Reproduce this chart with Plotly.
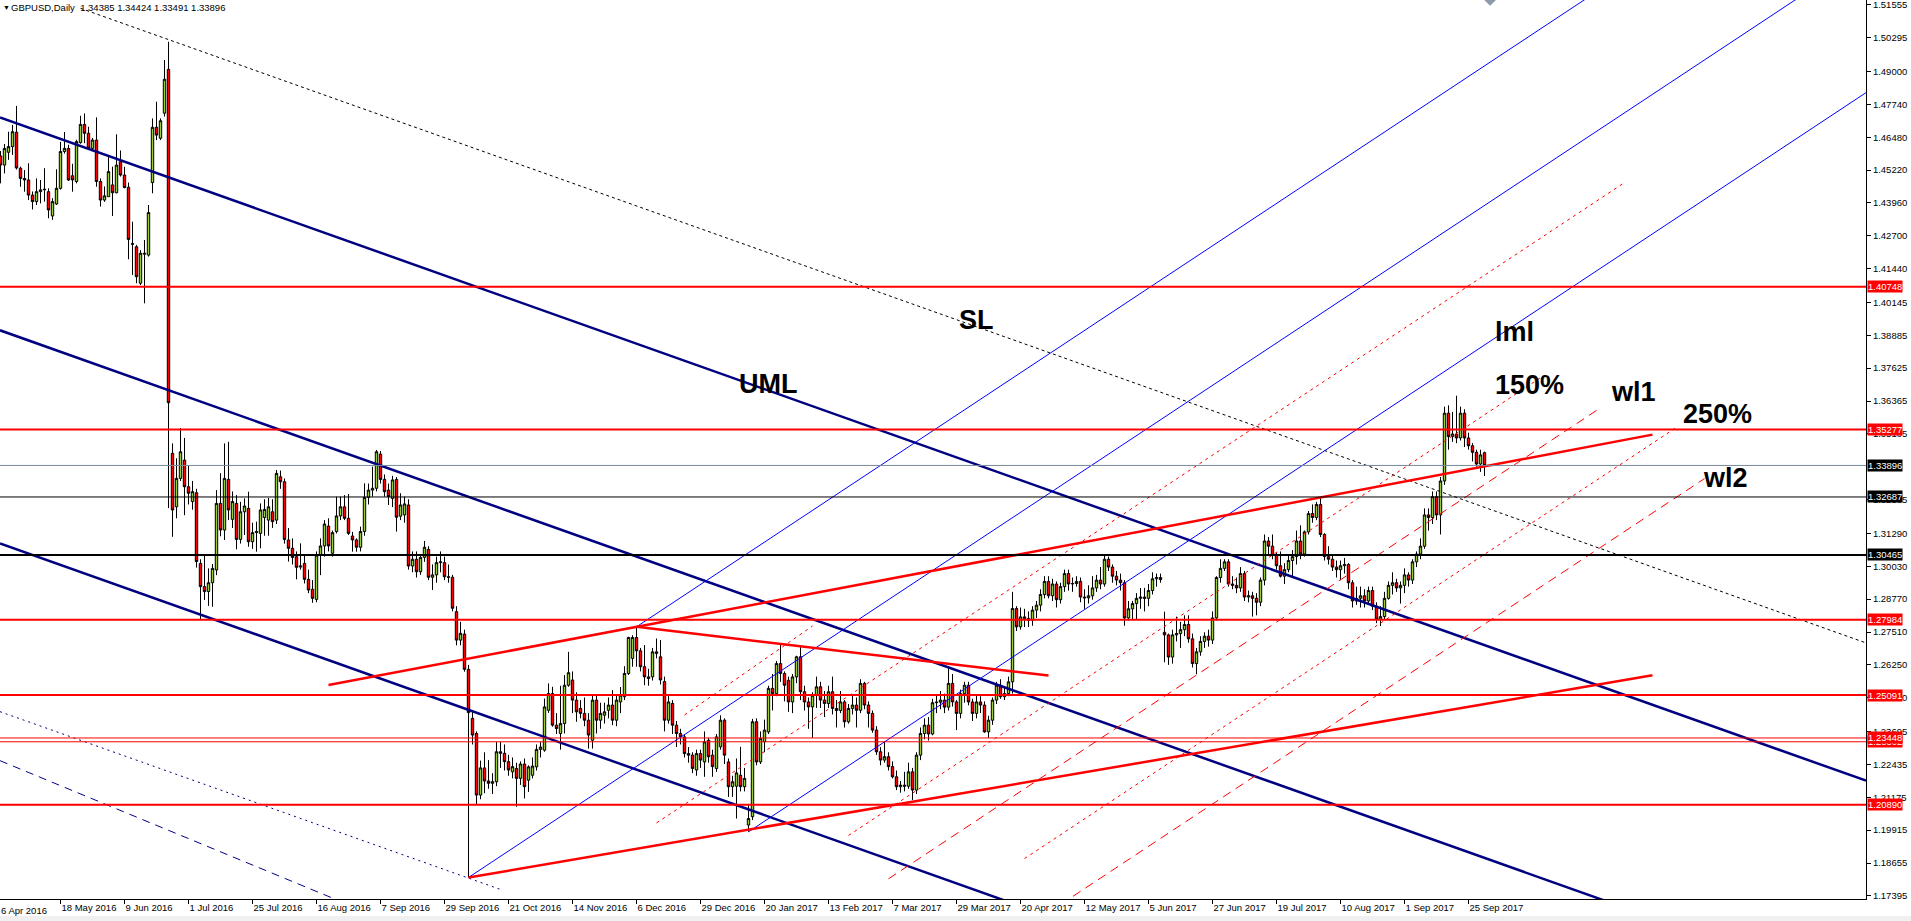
import pandas as pd
import plotly.graph_objects as go

# GBPUSD daily bars, 27 Apr 2016 .. 29 Sep 2017
opens = [
    1.4576, 1.4541, 1.4590, 1.4612, 1.4667, 1.4529, 1.4490, 1.4484, 1.4426, 1.4401,
    1.4439, 1.4446, 1.4439, 1.4346, 1.4392, 1.4452, 1.4593, 1.4605, 1.4500, 1.4478,
    1.4627, 1.4697, 1.4663, 1.4605, 1.4637, 1.4478, 1.4407, 1.4420, 1.4465, 1.4435,
    1.4554, 1.4503, 1.4456, 1.4240, 1.4228, 1.4088, 1.4203, 1.4196, 1.4474, 1.4686,
    1.4644, 1.4740, 1.4908, 1.3436, 1.3231, 1.3340, 1.3410, 1.3308, 1.3251, 1.3285,
    1.3014, 1.2925, 1.2906, 1.2940, 1.2989, 1.3244, 1.3142, 1.3336, 1.3183, 1.3244,
    1.3106, 1.3212, 1.3225, 1.3097, 1.3132, 1.3129, 1.3190, 1.3180, 1.3212, 1.3180,
    1.3346, 1.3327, 1.3104, 1.3072, 1.3040, 1.3000, 1.3014, 1.2953, 1.2915, 1.2876,
    1.3046, 1.3081, 1.3157, 1.3053, 1.3136, 1.3196, 1.3231, 1.3187, 1.3119, 1.3104,
    1.3076, 1.3136, 1.3267, 1.3295, 1.3302, 1.3433, 1.3336, 1.3295, 1.3263, 1.3336,
    1.3195, 1.3200, 1.3238, 1.3004, 1.3030, 1.2982, 1.3037, 1.3068, 1.2961, 1.2970,
    1.3017, 1.3017, 1.2963, 1.2961, 1.2829, 1.2720, 1.2743, 1.2608, 1.2420, 1.2362,
    1.2126, 1.2230, 1.2180, 1.2171, 1.2177, 1.2292, 1.2286, 1.2254, 1.2215, 1.2228,
    1.2190, 1.2245, 1.2183, 1.2202, 1.2234, 1.2301, 1.2298, 1.2451, 1.2515, 1.2394,
    1.2362, 1.2400, 1.2547, 1.2567, 1.2490, 1.2458, 1.2439, 1.2413, 1.2336, 1.2490,
    1.2413, 1.2432, 1.2451, 1.2471, 1.2413, 1.2483, 1.2503, 1.2592, 1.2650, 1.2730,
    1.2679, 1.2618, 1.2579, 1.2579, 1.2675, 1.2656, 1.2561, 1.2413, 1.2477, 1.2394,
    1.2362, 1.2349, 1.2285, 1.2279, 1.2222, 1.2285, 1.2253, 1.2336, 1.2279, 1.2228,
    1.2311, 1.2413, 1.2253, 1.2158, 1.2160, 1.2202, 1.2158, 1.2011, 1.2043, 1.2407,
    1.2253, 1.2330, 1.2368, 1.2535, 1.2515, 1.2630, 1.2592, 1.2566, 1.2483, 1.2579,
    1.2656, 1.2522, 1.2483, 1.2464, 1.2509, 1.2541, 1.2490, 1.2477, 1.2522, 1.2458,
    1.2450, 1.2483, 1.2407, 1.2458, 1.2471, 1.2451, 1.2554, 1.2471, 1.2439, 1.2375,
    1.2292, 1.2260, 1.2273, 1.2235, 1.2196, 1.2158, 1.2164, 1.2160, 1.2215, 1.2145,
    1.2279, 1.2362, 1.2394, 1.2360, 1.2480, 1.2482, 1.2490, 1.2463, 1.2554, 1.2483,
    1.2439, 1.2515, 1.2547, 1.2483, 1.2439, 1.2483, 1.2471, 1.2368, 1.2413, 1.2490,
    1.2547, 1.2503, 1.2515, 1.2560, 1.2841, 1.2771, 1.2809, 1.2803, 1.2796, 1.2835,
    1.2854, 1.2895, 1.2945, 1.2890, 1.2935, 1.2875, 1.2925, 1.2975, 1.2935, 1.2937,
    1.2945, 1.2885, 1.2882, 1.2890, 1.2920, 1.2950, 1.2935, 1.3030, 1.3000, 1.2965,
    1.2950, 1.2940, 1.2805, 1.2840, 1.2860, 1.2880, 1.2885, 1.2880, 1.2910, 1.2955,
    1.2960, 1.2750, 1.2740, 1.2655, 1.2740, 1.2745, 1.2760, 1.2780, 1.2725, 1.2630,
    1.2675, 1.2715, 1.2735, 1.2720, 1.2805, 1.2960, 1.2995, 1.3020, 1.2935, 1.2930,
    1.2920, 1.2975, 1.2885, 1.2890, 1.2880, 1.2865, 1.2950, 1.3100, 1.3080, 1.3045,
    1.3005, 1.2965, 1.2990, 1.3025, 1.3040, 1.3100, 1.3050, 1.3135, 1.3205, 1.3190,
    1.3240, 1.3125, 1.3040, 1.3030, 1.3000, 1.2990, 1.3005, 1.3010, 1.2940, 1.2870,
    1.2880, 1.2890, 1.2870, 1.2910, 1.2850, 1.2800, 1.2810, 1.2880, 1.2930, 1.2940,
    1.2920, 1.2930, 1.2970, 1.2950, 1.3020, 1.3050, 1.3080, 1.3200, 1.3190, 1.3270,
    1.3200, 1.3330, 1.3590, 1.3500, 1.3510, 1.3495, 1.3590, 1.3495, 1.3465, 1.3440,
    1.3395, 1.34385,
]
highs = [
    1.4595, 1.4622, 1.4669, 1.4695, 1.4768, 1.4535, 1.4522, 1.4548, 1.4440, 1.4490,
    1.4484, 1.4529, 1.4452, 1.4414, 1.4525, 1.4630, 1.4668, 1.4619, 1.4546, 1.4638,
    1.4730, 1.4739, 1.4688, 1.4645, 1.4724, 1.4490, 1.4459, 1.4580, 1.4535, 1.4659,
    1.4597, 1.4535, 1.4474, 1.4324, 1.4235, 1.4215, 1.4254, 1.4388, 1.4720, 1.4784,
    1.4720, 1.4944, 1.5014, 1.3474, 1.3417, 1.3533, 1.3495, 1.3390, 1.3330, 1.3300,
    1.3030, 1.3046, 1.2995, 1.3012, 1.3295, 1.3360, 1.3474, 1.3480, 1.3290, 1.3276,
    1.3250, 1.3263, 1.3289, 1.3170, 1.3174, 1.3244, 1.3260, 1.3265, 1.3260, 1.3372,
    1.3370, 1.3340, 1.3150, 1.3110, 1.3060, 1.3091, 1.3050, 1.2990, 1.2950, 1.3060,
    1.3110, 1.3180, 1.3187, 1.3140, 1.3270, 1.3270, 1.3276, 1.3280, 1.3135, 1.3110,
    1.3155, 1.3321, 1.3320, 1.3385, 1.3449, 1.3445, 1.3355, 1.3320, 1.3350, 1.3345,
    1.3283, 1.3270, 1.3260, 1.3060, 1.3060, 1.3050, 1.3100, 1.3080, 1.3010, 1.3040,
    1.3060, 1.3040, 1.3010, 1.2970, 1.2850, 1.2790, 1.2760, 1.2625, 1.2450, 1.2370,
    1.2258, 1.2290, 1.2260, 1.2210, 1.2330, 1.2330, 1.2320, 1.2280, 1.2270, 1.2250,
    1.2255, 1.2266, 1.2240, 1.2270, 1.2320, 1.2330, 1.2496, 1.2554, 1.2541, 1.2440,
    1.2545, 1.2586, 1.2675, 1.2600, 1.2520, 1.2490, 1.2500, 1.2440, 1.2509, 1.2509,
    1.2480, 1.2480, 1.2500, 1.2528, 1.2510, 1.2540, 1.2620, 1.2733, 1.2739, 1.2771,
    1.2690, 1.2701, 1.2610, 1.2690, 1.2726, 1.2720, 1.2580, 1.2510, 1.2490, 1.2410,
    1.2380, 1.2360, 1.2310, 1.2290, 1.2300, 1.2300, 1.2370, 1.2345, 1.2300, 1.2360,
    1.2432, 1.2420, 1.2266, 1.2200, 1.2266, 1.2311, 1.2230, 1.2090, 1.2418, 1.2420,
    1.2370, 1.2415, 1.2545, 1.2590, 1.2640, 1.2705, 1.2600, 1.2580, 1.2590, 1.2660,
    1.2701, 1.2545, 1.2500, 1.2520, 1.2580, 1.2560, 1.2525, 1.2545, 1.2580, 1.2490,
    1.2525, 1.2490, 1.2475, 1.2510, 1.2500, 1.2570, 1.2560, 1.2485, 1.2450, 1.2390,
    1.2310, 1.2330, 1.2290, 1.2255, 1.2220, 1.2180, 1.2215, 1.2250, 1.2230, 1.2290,
    1.2385, 1.2420, 1.2425, 1.2495, 1.2510, 1.2525, 1.2515, 1.2618, 1.2590, 1.2490,
    1.2530, 1.2560, 1.2560, 1.2495, 1.2510, 1.2505, 1.2485, 1.2430, 1.2500, 1.2560,
    1.2570, 1.2540, 1.2580, 1.2905, 1.2850, 1.2845, 1.2840, 1.2830, 1.2850, 1.2870,
    1.2915, 1.2965, 1.2965, 1.2955, 1.2945, 1.2940, 1.2990, 1.2990, 1.2960, 1.2965,
    1.2960, 1.2915, 1.2930, 1.2965, 1.2970, 1.3000, 1.3048, 1.3040, 1.3010, 1.2985,
    1.2975, 1.2950, 1.2870, 1.2870, 1.2900, 1.2920, 1.2920, 1.2935, 1.2980, 1.2975,
    1.2975, 1.2829, 1.2745, 1.2760, 1.2810, 1.2790, 1.2815, 1.2815, 1.2745, 1.2690,
    1.2735, 1.2750, 1.2760, 1.2830, 1.2965, 1.3030, 1.3030, 1.3030, 1.2965, 1.2960,
    1.3000, 1.2985, 1.2910, 1.2905, 1.2900, 1.2960, 1.3125, 1.3115, 1.3125, 1.3055,
    1.3060, 1.3015, 1.3045, 1.3065, 1.3140, 1.3160, 1.3140, 1.3215, 1.3240, 1.3250,
    1.3267, 1.3130, 1.3080, 1.3050, 1.3025, 1.3025, 1.3035, 1.3015, 1.2950, 1.2925,
    1.2925, 1.2915, 1.2925, 1.2925, 1.2865, 1.2850, 1.2905, 1.2945, 1.2980, 1.2955,
    1.2945, 1.2995, 1.2980, 1.3030, 1.3060, 1.3110, 1.3225, 1.3225, 1.3290, 1.3290,
    1.3345, 1.3615, 1.3620, 1.3595, 1.3657, 1.3615, 1.3605, 1.3515, 1.3475, 1.3450,
    1.3450, 1.34424,
]
lows = [
    1.4471, 1.4509, 1.4561, 1.4580, 1.4524, 1.4458, 1.4439, 1.4407, 1.4371, 1.4388,
    1.4394, 1.4401, 1.4337, 1.4331, 1.4388, 1.4447, 1.4585, 1.4480, 1.4439, 1.4471,
    1.4623, 1.4625, 1.4600, 1.4594, 1.4458, 1.4382, 1.4400, 1.4420, 1.4346, 1.4433,
    1.4497, 1.4452, 1.4180, 1.4120, 1.4088, 1.4081, 1.4011, 1.4190, 1.4433, 1.4637,
    1.4637, 1.4727, 1.3226, 1.3116, 1.3187, 1.3330, 1.3199, 1.3240, 1.3220, 1.2998,
    1.2797, 1.2874, 1.2851, 1.2848, 1.2969, 1.3118, 1.3104, 1.3180, 1.3150, 1.3068,
    1.3090, 1.3123, 1.3078, 1.3070, 1.3059, 1.3072, 1.3120, 1.3120, 1.3150, 1.3165,
    1.3300, 1.3090, 1.3021, 1.3010, 1.2953, 1.2990, 1.2937, 1.2900, 1.2863, 1.2865,
    1.2969, 1.3040, 1.3060, 1.3040, 1.3129, 1.3180, 1.3180, 1.3123, 1.3059, 1.3059,
    1.3060, 1.3120, 1.3240, 1.3270, 1.3290, 1.3320, 1.3270, 1.3238, 1.3230, 1.3136,
    1.3180, 1.3170, 1.2990, 1.2980, 1.2960, 1.2970, 1.3020, 1.2950, 1.2912, 1.2940,
    1.2980, 1.2950, 1.2940, 1.2830, 1.2700, 1.2700, 1.2599, 1.1810, 1.2320, 1.2088,
    1.2110, 1.2133, 1.2150, 1.2130, 1.2160, 1.2230, 1.2220, 1.2200, 1.2190, 1.2081,
    1.2165, 1.2113, 1.2138, 1.2190, 1.2220, 1.2270, 1.2292, 1.2441, 1.2388, 1.2360,
    1.2300, 1.2362, 1.2541, 1.2440, 1.2407, 1.2420, 1.2390, 1.2304, 1.2304, 1.2362,
    1.2380, 1.2400, 1.2420, 1.2394, 1.2390, 1.2440, 1.2490, 1.2586, 1.2618, 1.2618,
    1.2600, 1.2547, 1.2545, 1.2565, 1.2650, 1.2550, 1.2370, 1.2400, 1.2360, 1.2310,
    1.2320, 1.2270, 1.2250, 1.2210, 1.2200, 1.2230, 1.2196, 1.2250, 1.2196, 1.2215,
    1.2300, 1.2245, 1.2119, 1.2119, 1.2036, 1.2140, 1.2140, 1.1985, 1.2030, 1.2240,
    1.2245, 1.2290, 1.2360, 1.2450, 1.2505, 1.2560, 1.2485, 1.2445, 1.2440, 1.2555,
    1.2490, 1.2450, 1.2380, 1.2345, 1.2460, 1.2460, 1.2425, 1.2460, 1.2435, 1.2385,
    1.2440, 1.2385, 1.2400, 1.2435, 1.2385, 1.2440, 1.2455, 1.2385, 1.2365, 1.2280,
    1.2240, 1.2250, 1.2220, 1.2190, 1.2145, 1.2135, 1.2140, 1.2150, 1.2107, 1.2130,
    1.2260, 1.2340, 1.2335, 1.2355, 1.2440, 1.2455, 1.2440, 1.2450, 1.2465, 1.2375,
    1.2420, 1.2480, 1.2470, 1.2410, 1.2420, 1.2440, 1.2365, 1.2345, 1.2395, 1.2475,
    1.2495, 1.2490, 1.2505, 1.2515, 1.2755, 1.2760, 1.2770, 1.2770, 1.2775, 1.2805,
    1.2830, 1.2880, 1.2880, 1.2870, 1.2845, 1.2860, 1.2905, 1.2910, 1.2905, 1.2925,
    1.2865, 1.2840, 1.2860, 1.2875, 1.2905, 1.2915, 1.2925, 1.2985, 1.2940, 1.2930,
    1.2910, 1.2775, 1.2795, 1.2800, 1.2800, 1.2840, 1.2830, 1.2850, 1.2895, 1.2925,
    1.2940, 1.2635, 1.2625, 1.2630, 1.2715, 1.2690, 1.2735, 1.2710, 1.2615, 1.2589,
    1.2660, 1.2690, 1.2695, 1.2705, 1.2795, 1.2940, 1.2985, 1.2925, 1.2915, 1.2900,
    1.2905, 1.2870, 1.2865, 1.2810, 1.2815, 1.2850, 1.2930, 1.3045, 1.3030, 1.2990,
    1.2960, 1.2935, 1.2980, 1.2960, 1.3010, 1.3030, 1.3040, 1.3125, 1.3170, 1.3180,
    1.3115, 1.3025, 1.3010, 1.2985, 1.2960, 1.2950, 1.2975, 1.2915, 1.2845, 1.2855,
    1.2845, 1.2845, 1.2860, 1.2835, 1.2785, 1.2774, 1.2800, 1.2875, 1.2895, 1.2905,
    1.2860, 1.2900, 1.2925, 1.2935, 1.3000, 1.3030, 1.3070, 1.3140, 1.3165, 1.3180,
    1.3125, 1.3315, 1.3450, 1.3480, 1.3475, 1.3485, 1.3460, 1.3450, 1.3405, 1.3385,
    1.3365, 1.33491,
]
closes = [
    1.4541, 1.4605, 1.4612, 1.4669, 1.4530, 1.4490, 1.4484, 1.4426, 1.4401, 1.4439,
    1.4446, 1.4448, 1.4369, 1.4401, 1.4452, 1.4593, 1.4605, 1.4484, 1.4484, 1.4631,
    1.4697, 1.4663, 1.4605, 1.4637, 1.4478, 1.4407, 1.4423, 1.4516, 1.4435, 1.4541,
    1.4503, 1.4455, 1.4256, 1.4238, 1.4113, 1.4203, 1.4200, 1.4359, 1.4686, 1.4656,
    1.4711, 1.4870, 1.3630, 1.3219, 1.3340, 1.3442, 1.3308, 1.3283, 1.3289, 1.3021,
    1.2925, 1.2906, 1.2940, 1.2995, 1.3244, 1.3142, 1.3340, 1.3219, 1.3251, 1.3106,
    1.3212, 1.3234, 1.3097, 1.3132, 1.3136, 1.3219, 1.3221, 1.3231, 1.3174, 1.3359,
    1.3327, 1.3106, 1.3072, 1.3037, 1.2999, 1.3004, 1.2953, 1.2912, 1.2880, 1.3046,
    1.3081, 1.3165, 1.3081, 1.3132, 1.3196, 1.3231, 1.3187, 1.3129, 1.3104, 1.3076,
    1.3136, 1.3267, 1.3295, 1.3302, 1.3442, 1.3336, 1.3289, 1.3270, 1.3334, 1.3191,
    1.3238, 1.3242, 1.3004, 1.3030, 1.2982, 1.3037, 1.3076, 1.2961, 1.2970, 1.3017,
    1.3020, 1.2963, 1.2961, 1.2842, 1.2720, 1.2746, 1.2608, 1.2442, 1.2356, 1.2126,
    1.2230, 1.2180, 1.2171, 1.2177, 1.2292, 1.2286, 1.2254, 1.2222, 1.2235, 1.2190,
    1.2245, 1.2158, 1.2234, 1.2237, 1.2301, 1.2310, 1.2464, 1.2515, 1.2394, 1.2381,
    1.2400, 1.2547, 1.2595, 1.2490, 1.2445, 1.2439, 1.2413, 1.2356, 1.2490, 1.2413,
    1.2439, 1.2445, 1.2471, 1.2413, 1.2490, 1.2509, 1.2592, 1.2730, 1.2730, 1.2679,
    1.2618, 1.2579, 1.2573, 1.2675, 1.2669, 1.2567, 1.2413, 1.2483, 1.2394, 1.2362,
    1.2349, 1.2285, 1.2279, 1.2228, 1.2285, 1.2260, 1.2330, 1.2273, 1.2235, 1.2349,
    1.2413, 1.2279, 1.2158, 1.2177, 1.2211, 1.2158, 1.2190, 1.2036, 1.2407, 1.2253,
    1.2343, 1.2375, 1.2535, 1.2515, 1.2630, 1.2592, 1.2547, 1.2483, 1.2579, 1.2656,
    1.2522, 1.2483, 1.2464, 1.2509, 1.2541, 1.2490, 1.2477, 1.2522, 1.2458, 1.2450,
    1.2483, 1.2407, 1.2458, 1.2471, 1.2451, 1.2554, 1.2471, 1.2439, 1.2375, 1.2292,
    1.2260, 1.2273, 1.2235, 1.2196, 1.2158, 1.2164, 1.2160, 1.2215, 1.2145, 1.2279,
    1.2362, 1.2394, 1.2360, 1.2480, 1.2482, 1.2490, 1.2463, 1.2554, 1.2483, 1.2439,
    1.2515, 1.2547, 1.2483, 1.2439, 1.2483, 1.2471, 1.2368, 1.2413, 1.2490, 1.2547,
    1.2503, 1.2515, 1.2560, 1.2841, 1.2771, 1.2809, 1.2803, 1.2796, 1.2835, 1.2854,
    1.2895, 1.2945, 1.2890, 1.2935, 1.2875, 1.2925, 1.2975, 1.2935, 1.2937, 1.2945,
    1.2885, 1.2882, 1.2890, 1.2920, 1.2950, 1.2935, 1.3030, 1.3000, 1.2965, 1.2950,
    1.2940, 1.2805, 1.2840, 1.2860, 1.2880, 1.2885, 1.2880, 1.2910, 1.2955, 1.2960,
    1.2952, 1.2740, 1.2655, 1.2740, 1.2745, 1.2760, 1.2780, 1.2725, 1.2630, 1.2675,
    1.2715, 1.2735, 1.2720, 1.2805, 1.2960, 1.2995, 1.3020, 1.2935, 1.2930, 1.2920,
    1.2975, 1.2885, 1.2890, 1.2880, 1.2865, 1.2950, 1.3100, 1.3080, 1.3045, 1.3005,
    1.2965, 1.2990, 1.3025, 1.3040, 1.3100, 1.3050, 1.3135, 1.3205, 1.3190, 1.3240,
    1.3125, 1.3040, 1.3030, 1.3000, 1.2990, 1.3005, 1.3010, 1.2940, 1.2870, 1.2880,
    1.2890, 1.2870, 1.2910, 1.2850, 1.2800, 1.2810, 1.2880, 1.2930, 1.2940, 1.2920,
    1.2930, 1.2970, 1.2950, 1.3020, 1.3050, 1.3080, 1.3200, 1.3190, 1.3270, 1.3200,
    1.3330, 1.3590, 1.3500, 1.3510, 1.3495, 1.3590, 1.3495, 1.3465, 1.3440, 1.3395,
    1.3430, 1.33896,
]

# bottom axis labels, one every 16 bars
date_ticks = [
    "18 May 2016", "9 Jun 2016", "1 Jul 2016", "25 Jul 2016", "16 Aug 2016",
    "7 Sep 2016", "29 Sep 2016", "21 Oct 2016", "14 Nov 2016", "6 Dec 2016",
    "29 Dec 2016", "20 Jan 2017", "13 Feb 2017", "7 Mar 2017", "29 Mar 2017",
    "20 Apr 2017", "12 May 2017", "5 Jun 2017", "27 Jun 2017", "19 Jul 2017",
    "10 Aug 2017", "1 Sep 2017", "25 Sep 2017",
]
# right axis labels (the ones hidden under the level boxes are left out)
price_ticks = [
    1.51555, 1.50295, 1.49000, 1.47740, 1.46480, 1.45220, 1.43960, 1.42700,
    1.41440, 1.40145, 1.38885, 1.37625, 1.36365, 1.35105, 1.32585,
    1.31290, 1.30030, 1.28770, 1.27510, 1.26250, 1.24990, 1.23695, 1.22435,
    1.21175, 1.19915, 1.18655, 1.17395,
]

# horizontal levels
level_prices = [1.40748, 1.35277, 1.33896, 1.32687, 1.30465, 1.27984,
                1.25091, 1.23302, 1.23448, 1.20890]
level_kinds = ["red", "red", "bid", "black_thin", "black", "red",
               "red", "red_thin", "red_thin", "red"]

# descending navy channel (two points on each line)
channel_from = ["2016-04-27", "2016-04-27", "2016-04-27"]
channel_from_price = [1.4723, 1.3907, 1.3090]
channel_to = ["2017-09-29", "2017-09-29", "2017-09-29"]
channel_to_price = [1.2701, 1.1885, 1.1068]

# Andrews pitchfork: Oct 7 low, Dec 6 high, Jan 16 low
fork_dates = ["2016-10-07", "2016-12-06", "2017-01-16"]
fork_prices = [1.1810, 1.2771, 1.1985]
# extra red levels, as multiples of the median-to-lower-line distance
fork_levels = [0.5, 1.5, 2.0, 2.5, 3.0]
fork_level_from = ["2016-12-13", "2017-02-20", "2017-03-06", "2017-04-21", "2017-05-04"]
fork_level_to = ["2017-11-17", "2017-10-19", "2017-11-09", "2017-12-06", "2017-12-15"]
fork_level_dash = ["3px,4px", "3px,4px", "9px,6px", "3px,4px", "9px,6px"]

# text labels on the chart: left edge date, centre price
labels = ["SL", "UML", "lml", "150%", "wl1", "250%", "wl2"]
label_dates = ["2017-03-29", "2017-01-11", "2017-10-03", "2017-10-03",
               "2017-11-13", "2017-12-07", "2017-12-14"]
label_prices = [1.3949, 1.3700, 1.3901, 1.3698, 1.3671, 1.3587, 1.3343]

# broker calendar: weekdays, no bar on 26 Dec 2016, carried on past the last bar
calendar = [d for d in pd.bdate_range("2016-04-27", "2018-03-30")
            if d != pd.Timestamp("2016-12-26")]
bar_no = {d.strftime("%Y-%m-%d"): i for i, d in enumerate(calendar)}


def bar(day):
    return bar_no[day]


X_LEFT, X_RIGHT = -0.125, 466.375
Y_LOW, Y_HIGH = 1.17275, 1.51739
SMALL = 9.5  # axis / header text size

n = len(closes)
assert len(opens) == len(highs) == len(lows) == n == 372

fig = go.Figure()
fig.add_trace(go.Candlestick(
    x=list(range(n)), open=opens, high=highs, low=lows, close=closes,
    increasing=dict(fillcolor="#9acd32", line=dict(color="black", width=1)),
    decreasing=dict(fillcolor="#ff0000", line=dict(color="black", width=1)),
    whiskerwidth=0, hoverinfo="skip",
))


def at(p, q, x):
    (x1, y1), (x2, y2) = p, q
    return y1 + (y2 - y1) * (x - x1) / (x2 - x1)


def add_line(p, q, x0, x1, color, width, dash="solid"):
    fig.add_trace(go.Scatter(
        x=[x0, x1], y=[at(p, q, x0), at(p, q, x1)], mode="lines",
        line=dict(color=color, width=width, dash=dash), hoverinfo="skip",
    ))


# navy channel, drawn across the whole chart
for d0, p0, d1, p1 in zip(channel_from, channel_from_price, channel_to, channel_to_price):
    add_line((bar(d0), p0), (bar(d1), p1), X_LEFT, X_RIGHT, "#000080", 2.5)

# navy dotted line through the Oct 7 low and the dashed one below it
add_line((bar("2016-04-27"), 1.2445), (bar("2016-10-19"), 1.1764),
         X_LEFT, bar("2016-10-19"), "#000080", 1, "2px,4px")
add_line((bar("2016-04-27"), 1.2257), (bar("2016-09-07"), 1.1655),
         X_LEFT, bar("2016-09-07"), "#00008b", 1, "8px,6px")

# SL, black dotted, through the referendum high
add_line((bar("2016-05-25"), 1.5142), (bar("2017-09-29"), 1.3229),
         bar("2016-05-25"), X_RIGHT, "black", 1, "3px,3px")

# pitchfork
b0, b1, b2 = [bar(d) for d in fork_dates]
p0, p1, p2 = fork_prices
slope = ((p1 + p2) / 2 - p0) / ((b1 + b2) / 2 - b0)
half = (p0 + slope * (b2 - b0)) - p2


def fork(k, x):
    return p0 + slope * (x - b0) - k * half


for k, start in [(0, b0), (-1, b1), (1, b2)]:
    add_line((start, fork(k, start)), (X_RIGHT, fork(k, X_RIGHT)),
             start, X_RIGHT, "#0000ff", 1)
for k, d0, d1, dash in zip(fork_levels, fork_level_from, fork_level_to, fork_level_dash):
    x0, x1 = bar(d0), bar(d1)
    add_line((x0, fork(k, x0)), (x1, fork(k, x1)), x0, x1, "#ff0000", 1, dash)

# short red dotted piece above the upper fork line
add_line((bar("2016-12-22"), 1.2433), (bar("2017-02-07"), 1.2774),
         bar("2016-12-22"), bar("2017-02-07"), "#ff0000", 1, "3px,4px")

# red trend lines
add_line((bar("2016-12-06"), 1.2771), (bar("2017-08-03"), 1.3267),
         bar("2016-08-19"), bar("2017-11-28"), "#ff0000", 2.5)
add_line((bar("2016-10-07"), 1.1810), (bar("2017-11-28"), 1.2585),
         bar("2016-10-07"), bar("2017-11-28"), "#ff0000", 2.5)
add_line((bar("2016-12-06"), 1.2771), (bar("2017-05-01"), 1.2584),
         bar("2016-12-06"), bar("2017-05-01"), "#ff0000", 2.5)

# small object marker at the top edge
fig.add_trace(go.Scatter(
    x=[bar("2017-10-02") + 0.4], y=[Y_HIGH], mode="markers",
    marker=dict(symbol="diamond", size=9, color="#8c9aab"), hoverinfo="skip",
))

kind_style = {
    "red": ("#ff0000", 2, "#ff0000"),
    "red_thin": ("#ff0000", 1, "#ff0000"),
    "black": ("black", 2, "black"),
    "black_thin": ("black", 1, "black"),
    "bid": ("#778899", 1, "black"),
}
shapes = []
annotations = []
for price, kind in zip(level_prices, level_kinds):
    color, width, box = kind_style[kind]
    shapes.append(dict(type="line", xref="paper", x0=0, x1=1, yref="y", y0=price, y1=price,
                       line=dict(color=color, width=width)))
    annotations.append(dict(xref="paper", x=1, xanchor="left", xshift=1, yref="y", y=price,
                            text=f"{price:.5f}", showarrow=False, bgcolor=box, borderpad=0,
                            font=dict(color="white", size=SMALL)))

for text, d, price in zip(labels, label_dates, label_prices):
    annotations.append(dict(xref="x", x=bar(d), xanchor="left", yref="y", y=price,
                            yanchor="middle", text=f"<b>{text}</b>", showarrow=False,
                            font=dict(family="Liberation Sans, Arial, sans-serif",
                                      size=27, color="black")))

# header and the cut-off first date label
annotations.append(dict(xref="paper", x=0, xanchor="left", xshift=1, yref="paper", y=1,
                        yanchor="top", yshift=-2, text="▼", showarrow=False,
                        font=dict(size=7, color="black")))
annotations.append(dict(xref="paper", x=0, xanchor="left", xshift=9, yref="paper", y=1,
                        yanchor="top", yshift=0,
                        text="GBPUSD,Daily\u00a0\u00a01.34385 1.34424 1.33491 1.33896",
                        showarrow=False, font=dict(size=SMALL, color="black")))
annotations.append(dict(xref="paper", x=0, xanchor="left", xshift=-1, yref="paper", y=0,
                        yanchor="top", yshift=-4, text="6 Apr 2016", showarrow=False,
                        font=dict(size=SMALL, color="black")))

shapes.append(dict(type="rect", xref="paper", x0=-0.01, x1=1.05, yref="paper",
                   y0=-0.0245, y1=-0.0189, fillcolor="#f0f0f0", line=dict(width=0),
                   layer="below"))

tick_bars = [bar(pd.to_datetime(t).strftime("%Y-%m-%d")) for t in date_ticks]

fig.update_layout(
    width=1911, height=921,
    margin=dict(l=0, r=45, t=0, b=22),
    paper_bgcolor="white", plot_bgcolor="white",
    showlegend=False,
    boxgap=0, boxgroupgap=0.4,
    font=dict(family="Liberation Sans, Arial, sans-serif", size=SMALL, color="black"),
    shapes=shapes, annotations=annotations,
)
fig.update_xaxes(
    range=[X_LEFT, X_RIGHT], tickvals=tick_bars, ticktext=date_ticks,
    ticks="outside", ticklen=4, tickcolor="black", ticklabelposition="outside right",
    tickangle=0, ticklabeloverflow="allow",
    showgrid=False, zeroline=False, showline=True, linecolor="black", linewidth=1,
    rangeslider_visible=False, automargin=False, fixedrange=True,
)
fig.update_yaxes(
    side="right", range=[Y_LOW, Y_HIGH], tickvals=price_ticks,
    ticktext=[f"{v:.5f}" for v in price_ticks],
    ticks="outside", ticklen=4, tickcolor="black", ticklabeloverflow="allow",
    showgrid=False, zeroline=False, showline=True, linecolor="black", linewidth=1,
    automargin=False, fixedrange=True,
)

# the page is exactly the window size: drop the default body margin
fig.write_html("out.html", config={"displayModeBar": False},
               post_script="document.body.style.margin='0';"
                           "document.body.style.overflow='hidden';")
